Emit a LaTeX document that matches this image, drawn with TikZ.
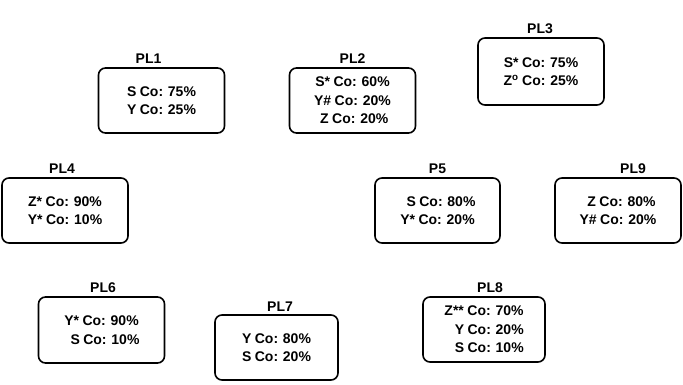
\documentclass[tikz,border=0pt]{standalone}
\usepackage{fontspec}
\setmainfont{Liberation Sans}
\usetikzlibrary{positioning}
\newcommand{\plfont}{\bfseries\fontsize{14}{18.5}\selectfont\spaceskip=0.25em\relax}
\tikzstyle{plbox} = [rectangle, draw, line width=1.6pt, rounded corners=7pt, minimum width=126pt, minimum height=65pt, align=center, text depth=0pt, font=\plfont]
\tikzstyle{pltitle} = [font=\bfseries\fontsize{14}{16}\selectfont, inner sep=1pt]

\begin{document}
\begin{tikzpicture}[x=1pt, y=-1pt]
    \useasboundingbox (0,0) rectangle (683,385);

        % boxes
        \node (pl1) [plbox] at (161.5,100.5) {S Co: 75\%\\Y Co: 25\%};
        \node (pl2) [plbox] at (352.5,100.5) {S* Co: 60\%\\Y\# Co: 20\%\\\ Z Co: 20\%};
        \node (pl3) [plbox, minimum height=67pt] at (541,71.5) {S* Co: 75\%\\Z\textsuperscript{o} Co: 25\%};
        \node (pl4) [plbox] at (65,210.5) {Z* Co: 90\%\\Y* Co: 10\%};
        \node (p5) [plbox, minimum width=125pt] at (437.5,210.5) {\ \ S Co: 80\%\\Y* Co: 20\%};
        \node (pl9) [plbox] at (618,210.5) {\ \ Z Co: 80\%\\Y\# Co: 20\%};
        \node (pl6) [plbox, minimum height=66pt] at (101.5,330) {Y* Co: 90\%\\\ \ S Co: 10\%};
        \node (pl7) [plbox, minimum width=123pt] at (276.5,347.5) {Y Co: 80\%\\S Co: 20\%};
        \node (pl8) [plbox, minimum width=122pt] at (484,329.5) {Z** Co: 70\%\\\ \ \ Y Co: 20\%\\\ \ \ S Co: 10\%};

        % titles
        \node (pl1title) [pltitle, above=2pt of pl1, xshift=-13pt] {PL1};
        \node (pl2title) [pltitle, above=2pt of pl2] {PL2};
        \node (pl3title) [pltitle, above=2pt of pl3, xshift=-1pt] {PL3};
        \node (pl4title) [pltitle, above=2pt of pl4, xshift=-3pt] {PL4};
        \node (p5title) [pltitle, above=2pt of p5] {P5};
        \node (pl9title) [pltitle, above=2pt of pl9, xshift=15pt] {PL9};
        \node (pl6title) [pltitle, above=2pt of pl6, xshift=1.5pt] {PL6};
        \node (pl7title) [pltitle, above=2pt of pl7, xshift=3.5pt] {PL7};
        \node (pl8title) [pltitle, above=2pt of pl8, xshift=6pt] {PL8};

    \end{tikzpicture}
\end{document}
